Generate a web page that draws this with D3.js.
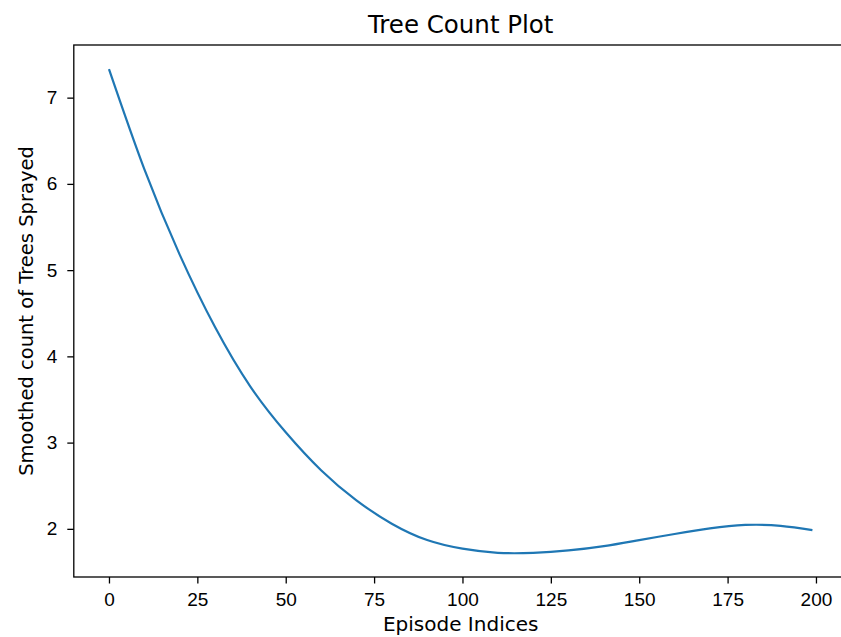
<!DOCTYPE html>
<html lang="en">
<head>
  <meta charset="UTF-8" />
  <title>Tree Count Plot</title>
  <script src="https://d3js.org/d3.v7.min.js"></script>
  <style>
    body {
      margin: 0;
      background-color: #ffffff;
      font-family: 'DejaVu Sans', sans-serif;
    }

    .axis text {
      font-size: 19px;
      fill: #000;
    }

    .axis path,
    .axis line {
      stroke: #000;
      stroke-width: 1.3;
    }

    .line-path {
      fill: none;
      stroke: #1f77b4;
      stroke-width: 2.2;
    }
  </style>
</head>
<body>

  <div id="chart"></div>

  <script>
    // episode index and smoothed tree count
    const episodes = [0, 10, 20, 30, 40, 50, 60, 70, 80, 90, 100, 110, 120, 130, 140, 150, 160, 170, 180, 190, 199];
    const treeCounts = [7.33, 6.17, 5.18, 4.34, 3.65, 3.12, 2.68, 2.33, 2.06, 1.87, 1.77, 1.722, 1.722, 1.75, 1.80, 1.87, 1.94, 2.005, 2.045, 2.035, 1.985];
    const xTicks = [0, 25, 50, 75, 100, 125, 150, 175, 200];
    const yTicks = [2, 3, 4, 5, 6, 7];

    const titleText = "Tree Count Plot";
    const xLabel = "Episode Indices";
    const yLabel = "Smoothed count of Trees Sprayed";

    function drawChart() {
      const svgWidth = 841;
      const svgHeight = 637;
      const plot = { left: 73.8, right: 847.6, top: 45, bottom: 577 };

      const data = episodes.map((e, i) => ({ x: e, y: treeCounts[i] }));

      const svg = d3.select("#chart")
        .append("svg")
        .attr("width", svgWidth)
        .attr("height", svgHeight);

      // matplotlib style 5% margins around the data
      const xExt = d3.extent(episodes);
      const yExt = d3.extent(treeCounts);
      const xPad = (xExt[1] - xExt[0]) * 0.05;
      const yPad = (yExt[1] - yExt[0]) * 0.05;

      const x = d3.scaleLinear()
        .domain([xExt[0] - xPad, xExt[1] + xPad])
        .range([plot.left, plot.right]);

      const y = d3.scaleLinear()
        .domain([yExt[0] - yPad, yExt[1] + yPad])
        .range([plot.bottom, plot.top]);

      const line = d3.line()
        .x(d => x(d.x))
        .y(d => y(d.y))
        .curve(d3.curveNatural);

      svg.append("path")
        .datum(data)
        .attr("class", "line-path")
        .attr("d", line);

      // frame
      svg.append("rect")
        .attr("x", plot.left)
        .attr("y", plot.top)
        .attr("width", plot.right - plot.left)
        .attr("height", plot.bottom - plot.top)
        .attr("fill", "none")
        .attr("stroke", "#000")
        .attr("stroke-width", 1.3);

      svg.append("g")
        .attr("class", "axis")
        .attr("transform", `translate(0,${plot.bottom})`)
        .call(d3.axisBottom(x).tickValues(xTicks).tickSize(6.5).tickPadding(9).tickFormat(d3.format("d")))
        .call(g => g.select(".domain").remove());

      svg.append("g")
        .attr("class", "axis")
        .attr("transform", `translate(${plot.left},0)`)
        .call(d3.axisLeft(y).tickValues(yTicks).tickSize(6.5).tickPadding(10).tickFormat(d3.format("d")))
        .call(g => g.select(".domain").remove());

      svg.append("text")
        .attr("x", (plot.left + plot.right) / 2)
        .attr("y", 33)
        .attr("text-anchor", "middle")
        .style("font-size", "24.5px")
        .text(titleText);

      svg.append("text")
        .attr("x", (plot.left + plot.right) / 2)
        .attr("y", 631)
        .attr("text-anchor", "middle")
        .style("font-size", "20px")
        .text(xLabel);

      svg.append("text")
        .attr("transform", `translate(33,${(plot.top + plot.bottom) / 2}) rotate(-90)`)
        .attr("text-anchor", "middle")
        .style("font-size", "19.5px")
        .text(yLabel);
    }

    drawChart();
  </script>

</body>
</html>
